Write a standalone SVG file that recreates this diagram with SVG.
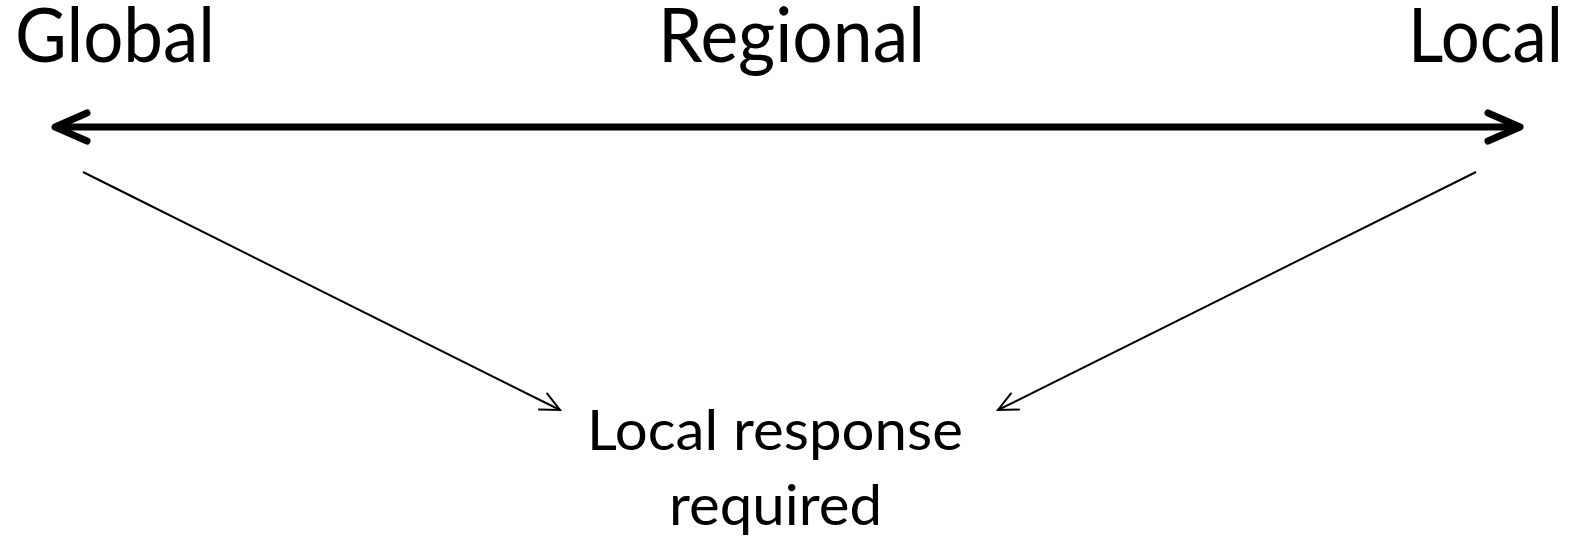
<svg xmlns="http://www.w3.org/2000/svg" width="1580" height="536" viewBox="0 0 1580 536">
  <style>
    .big { font-family: Lato, "Open Sans", "Liberation Sans", sans-serif; font-size: 75px; fill: #000; }
    .small { font-family: Lato, "Open Sans", "Liberation Sans", sans-serif; font-size: 56px; fill: #000; }
    .thick { stroke: #000; stroke-width: 7; fill: none; }
    .thin { stroke: #000; stroke-width: 2; fill: none; }
  </style>
  <defs>
    <marker id="bigHead" markerUnits="userSpaceOnUse" markerWidth="50" markerHeight="50" viewBox="-40 -20 50 40" refX="0" refY="0" orient="auto-start-reverse" overflow="visible">
      <path d="M -32 -14 L 0 0 L -32 14" fill="none" stroke="#000" stroke-width="7" stroke-linecap="round" stroke-linejoin="round"/>
    </marker>
    <marker id="thinHead" markerUnits="userSpaceOnUse" markerWidth="30" markerHeight="30" viewBox="-25 -15 30 30" refX="0" refY="0" orient="auto" overflow="visible">
      <path d="M -19 -9 L 0 0 L -19 9" fill="none" stroke="#000" stroke-width="2" stroke-linecap="round" stroke-linejoin="miter"/>
    </marker>
  </defs>

  <g id="node-global">
    <text class="big" x="15" y="62" textLength="200" lengthAdjust="spacingAndGlyphs">Global</text>
  </g>
  <g id="node-regional">
    <text class="big" x="658" y="62" textLength="267" lengthAdjust="spacingAndGlyphs">Regional</text>
  </g>
  <g id="node-local">
    <text class="big" x="1408" y="62" textLength="155" lengthAdjust="spacingAndGlyphs">Local</text>
  </g>
  <g id="node-response">
    <text class="small" x="587" y="450" textLength="376" lengthAdjust="spacingAndGlyphs">Local response</text>
    <text class="small" x="669" y="525" textLength="213" lengthAdjust="spacingAndGlyphs">required</text>
  </g>

  <g id="connectors">
    <line class="thick" x1="55" y1="127" x2="1520" y2="127" marker-start="url(#bigHead)" marker-end="url(#bigHead)"/>
    <line class="thin" x1="83" y1="172" x2="560" y2="410" marker-end="url(#thinHead)"/>
    <line class="thin" x1="1476" y1="172" x2="998" y2="410" marker-end="url(#thinHead)"/>
  </g>
</svg>
